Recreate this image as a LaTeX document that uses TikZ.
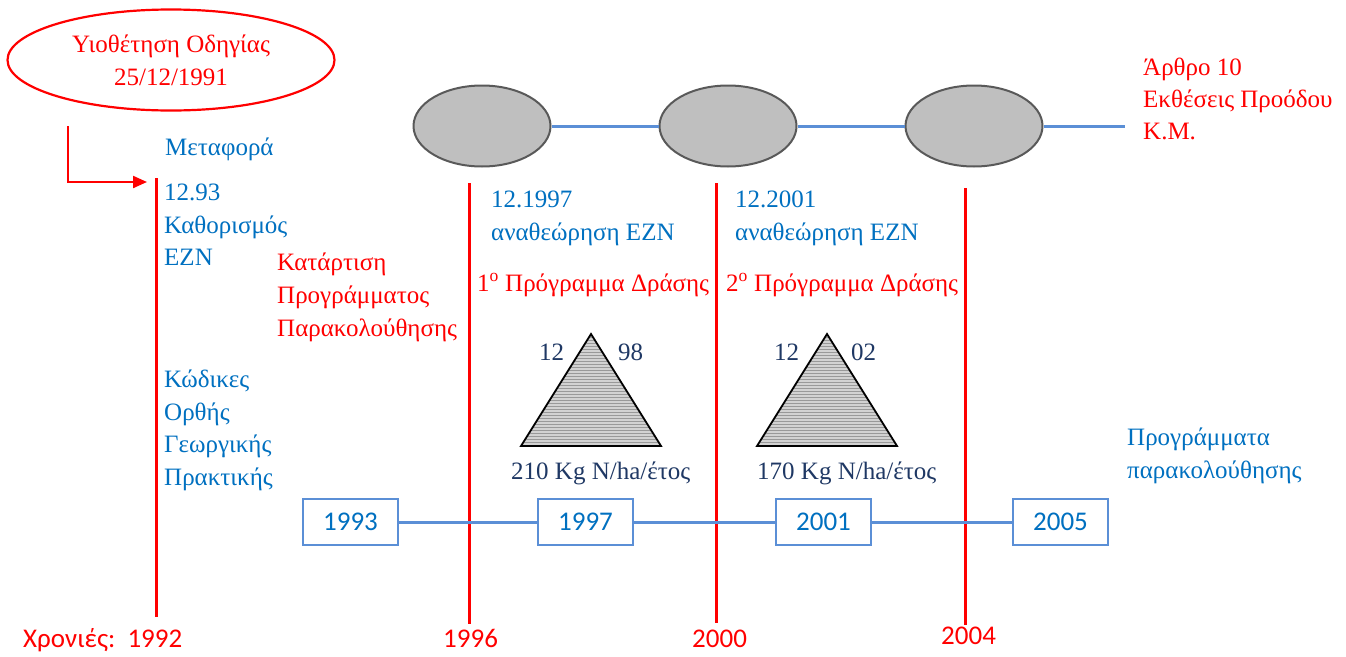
\documentclass[tikz,border=0pt]{standalone}
\usepackage{fontspec}
\setmainfont{Liberation Serif}
\newfontfamily\calib{Carlito}
\usetikzlibrary{shapes.geometric,patterns,arrows.meta}
\definecolor{myred}{HTML}{FF0000}
\definecolor{txtblue}{HTML}{0070C0}
\definecolor{lineblue}{HTML}{5B8FD6}
\definecolor{navy}{HTML}{1F3864}
\definecolor{ellfill}{HTML}{BFBFBF}
\definecolor{ellline}{HTML}{595959}
\tikzset{
  txt/.style={anchor=base west, inner sep=0pt, font=\fontsize{25}{32}\selectfont},
  btxt/.style={txt, text=txtblue},
  rtxt/.style={txt, text=myred},
  ntxt/.style={txt, text=navy},
  yrtxt/.style={anchor=base west, inner sep=0pt, text=myred, font=\calib\fontsize{27}{30}\selectfont},
  redline/.style={draw=myred, line width=3pt},
  blueline/.style={draw=lineblue, line width=3pt},
  greyell/.style={ellipse, draw=ellline, fill=ellfill, line width=2pt, minimum width=137pt, minimum height=81pt, inner sep=0pt},
  yearbox/.style={draw=lineblue, line width=2.5pt, fill=white, minimum width=95pt, minimum height=46pt, inner sep=0pt, text=txtblue, font=\calib\fontsize{27}{28}\selectfont},
  tri/.style={draw=black, line width=1.8pt}
}
\begin{document}
\begin{tikzpicture}[x=1pt,y=-1pt]
\useasboundingbox (0,0) rectangle (1346,656);

% top-left red ellipse
\node[ellipse, draw=myred, line width=2.2pt, minimum width=327pt, minimum height=101pt, inner sep=0pt,
      text=myred, align=center, font=\fontsize{25}{33}\selectfont] (adopt) at (171,60)
      {Υιοθέτηση Οδηγίας\\25/12/1991};

% arrow
\coordinate (arrS) at (68,126);
\coordinate (arrE) at (147,182);
\draw[myred, line width=2.2pt, -{Triangle[length=14pt,width=12pt]}] (arrS) |- (arrE);

% red vertical year lines
\coordinate (l92t) at (156,178); \coordinate (l92b) at (156,617);
\coordinate (l96t) at (469,183); \coordinate (l96b) at (469,624);
\coordinate (l00t) at (716,183); \coordinate (l00b) at (716,623);
\coordinate (l04t) at (965,188); \coordinate (l04b) at (965,625);
\draw[redline] (l92t) -- (l92b);
\draw[redline] (l96t) -- (l96b);
\draw[redline] (l00t) -- (l00b);
\draw[redline] (l04t) -- (l04b);

% grey ellipses with blue line
\coordinate (topend) at (1125,126);
\node[greyell] (e1) at (482,126) {};
\node[greyell] (e2) at (728,126) {};
\node[greyell] (e3) at (974,126) {};
\draw[blueline] (e1) -- (e2);
\draw[blueline] (e2) -- (e3);
\draw[blueline] (e3) -- (topend);

% year boxes and their line
\node[yearbox] (b1993) at (350.5,522) {1993};
\node[yearbox] (b1997) at (585.5,522) {1997};
\node[yearbox] (b2001) at (823.5,522) {2001};
\node[yearbox] (b2005) at (1060.5,522) {2005};
\draw[blueline] (b1993) -- (b1997);
\draw[blueline] (b1997) -- (b2001);
\draw[blueline] (b2001) -- (b2005);

% left blue texts
\node[btxt] (metaf) at (165,155) {Μεταφορά};
\node[btxt] (t1293) at (164,200) {12.93};
\node[btxt] (kath) at (164,233) {Καθορισμός};
\node[btxt] (ezn) at (164,265) {ΕΖΝ};
\node[btxt] (kod) at (164,387) {Κώδικες};
\node[btxt] (orth) at (164,420) {Ορθής};
\node[btxt] (geor) at (164,452) {Γεωργικής};
\node[btxt] (prak) at (164,485) {Πρακτικής};

% red program text
\node[rtxt] (kat1) at (277,270) {Κατάρτιση};
\node[rtxt] (kat2) at (277,303) {Προγράμματος};
\node[rtxt] (kat3) at (277,336) {Παρακολούθησης};

% revisions
\node[btxt] (r97a) at (491,207) {12.1997};
\node[btxt] (r97b) at (491,240) {αναθεώρηση ΕΖΝ};
\node[btxt] (r01a) at (735,207) {12.2001};
\node[btxt] (r01b) at (735,240) {αναθεώρηση ΕΖΝ};

\node[rtxt] (p1) at (477,291) {1\textsuperscript{ο} Πρόγραμμα Δράσης};
\node[rtxt] (p2) at (726,291) {2\textsuperscript{ο} Πρόγραμμα Δράσης};

% triangles
\coordinate (t1a) at (591,334); \coordinate (t1l) at (521,446); \coordinate (t1r) at (661,446);
\coordinate (t2a) at (827,334); \coordinate (t2l) at (757,446); \coordinate (t2r) at (897,446);
\fill[gray!35] (t1a) -- (t1l) -- (t1r) -- cycle;
\fill[pattern=horizontal lines, pattern color=gray!80] (t1a) -- (t1l) -- (t1r) -- cycle;
\draw[tri, line join=miter] (t1a) -- (t1l) -- (t1r) -- cycle;
\fill[gray!35] (t2a) -- (t2l) -- (t2r) -- cycle;
\fill[pattern=horizontal lines, pattern color=gray!80] (t2a) -- (t2l) -- (t2r) -- cycle;
\draw[tri, line join=miter] (t2a) -- (t2l) -- (t2r) -- cycle;

\node[ntxt] (n12a) at (539,360) {12};
\node[ntxt] (n98) at (618,360) {98};
\node[ntxt] (kg1) at (511,479) {210 Kg N/ha/έτος};
\node[ntxt] (n12b) at (774,360) {12};
\node[ntxt] (n02) at (851,360) {02};
\node[ntxt] (kg2) at (757,479) {170 Kg N/ha/έτος};

% right texts
\node[rtxt] (ar1) at (1143,75) {Άρθρο 10};
\node[rtxt] (ar2) at (1143,107) {Εκθέσεις Προόδου};
\node[rtxt] (ar3) at (1143,139) {Κ.Μ.};
\node[btxt] (pp1) at (1127,445) {Προγράμματα};
\node[btxt] (pp2) at (1127,478) {παρακολούθησης};

% bottom years
\node[yrtxt] (y92) at (23,647) {Χρονιές:\ \ 1992};
\node[yrtxt] (y96) at (443,647) {1996};
\node[yrtxt] (y00) at (692,647) {2000};
\node[yrtxt] (y04) at (941,644) {2004};
\end{tikzpicture}
\end{document}
